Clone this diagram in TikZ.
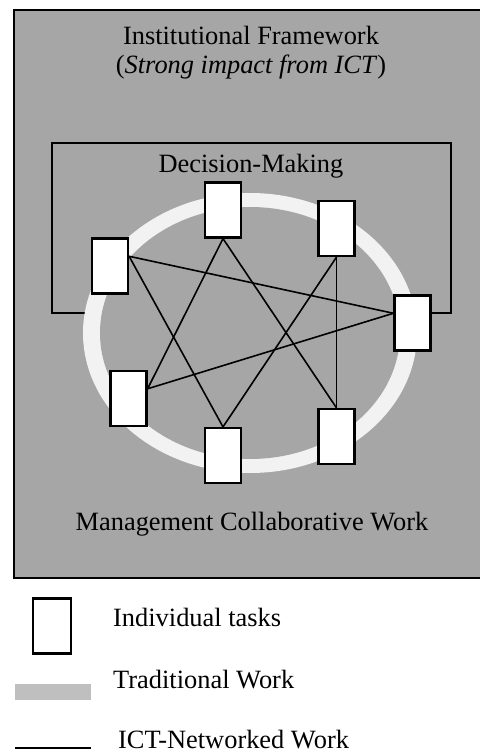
\documentclass[tikz,border=0pt]{standalone}
\usepackage{fontspec}
\setmainfont{Liberation Serif}
\usetikzlibrary{calc}
\definecolor{frame}{HTML}{A6A6A6}
\definecolor{ring}{HTML}{F2F2F2}
\definecolor{legendbar}{HTML}{BFBFBF}
\tikzset{
  task/.style={draw=black, fill=white, line width=2.2pt, inner sep=0pt,
    minimum width=36pt, minimum height=55pt},
  link/.style={draw=black, line width=1.6pt},
  boxline/.style={draw=black, line width=2pt},
  label/.style={inner sep=0pt, font=\fontsize{26.4}{30}\selectfont},
}
\begin{document}
\begin{tikzpicture}[x=1pt, y=-1pt]
  \useasboundingbox (0,0) rectangle (479,754);

  % outer institutional frame (runs past the right edge)
  \path[fill=frame, boxline] (14,10) rectangle (484,578);

  % decision-making box
  \path[boxline] (52,143) rectangle (451,313);

  % ring of traditional work
  \fill[ring] (250,333) ellipse [x radius=167, y radius=140];
  \fill[frame] (250,333) ellipse [x radius=150, y radius=126];

  % individual tasks
  \node[task] (t1) at (223,210) {};
  \node[task] (t2) at (336.5,228.5) {};
  \node[task] (t3) at (110,266) {};
  \node[task] (t4) at (412.5,323) {};
  \node[task] (t5) at (128.5,398.5) {};
  \node[task] (t6) at (223,455.5) {};
  \node[task] (t7) at (336.5,436.5) {};

  % side attachment points
  \coordinate (t3e) at ($(t3.north east)!0.33!(t3.south east)$);
  \coordinate (t4w) at ($(t4.north west)!0.33!(t4.south west)$);
  \coordinate (t5e) at ($(t5.north east)!0.33!(t5.south east)$);

  % ICT-networked links
  \draw[link] (t3e) -- (t4w);
  \draw[link] (t3e) -- (t6.north);
  \draw[link] (t1.south) -- (t5e);
  \draw[link] (t1.south) -- (t7.north);
  \draw[link] (t2.south) -- (t6.north);
  \draw[link] (t2.south) -- (t7.north);
  \draw[link] (t4w) -- (t5e);

  % titles
  \node[label, anchor=base] (inst) at (251,45) {Institutional Framework};
  \node[label, anchor=base] (impact) at (251,74) {(\textit{Strong impact from ICT})};
  \node[label, anchor=base] (dm) at (251,172) {Decision-Making};
  \node[label, anchor=base] (mcw) at (252,530) {Management Collaborative Work};

  % legend
  \node[task, minimum width=38pt] (lt) at (52,626) {};
  \node[label, anchor=base west] (ltx) at (113,626) {Individual tasks};
  \fill[legendbar] (15,684) rectangle (91,700);
  \node[label, anchor=base west] (lbx) at (113,688) {Traditional Work};
  \coordinate (la) at (15,748);
  \coordinate (lb) at (91,748);
  \draw[line width=2.5pt] (la) -- (lb);
  \node[label, anchor=base west] (llx) at (118,748.5) {ICT-Networked Work};
\end{tikzpicture}
\end{document}
